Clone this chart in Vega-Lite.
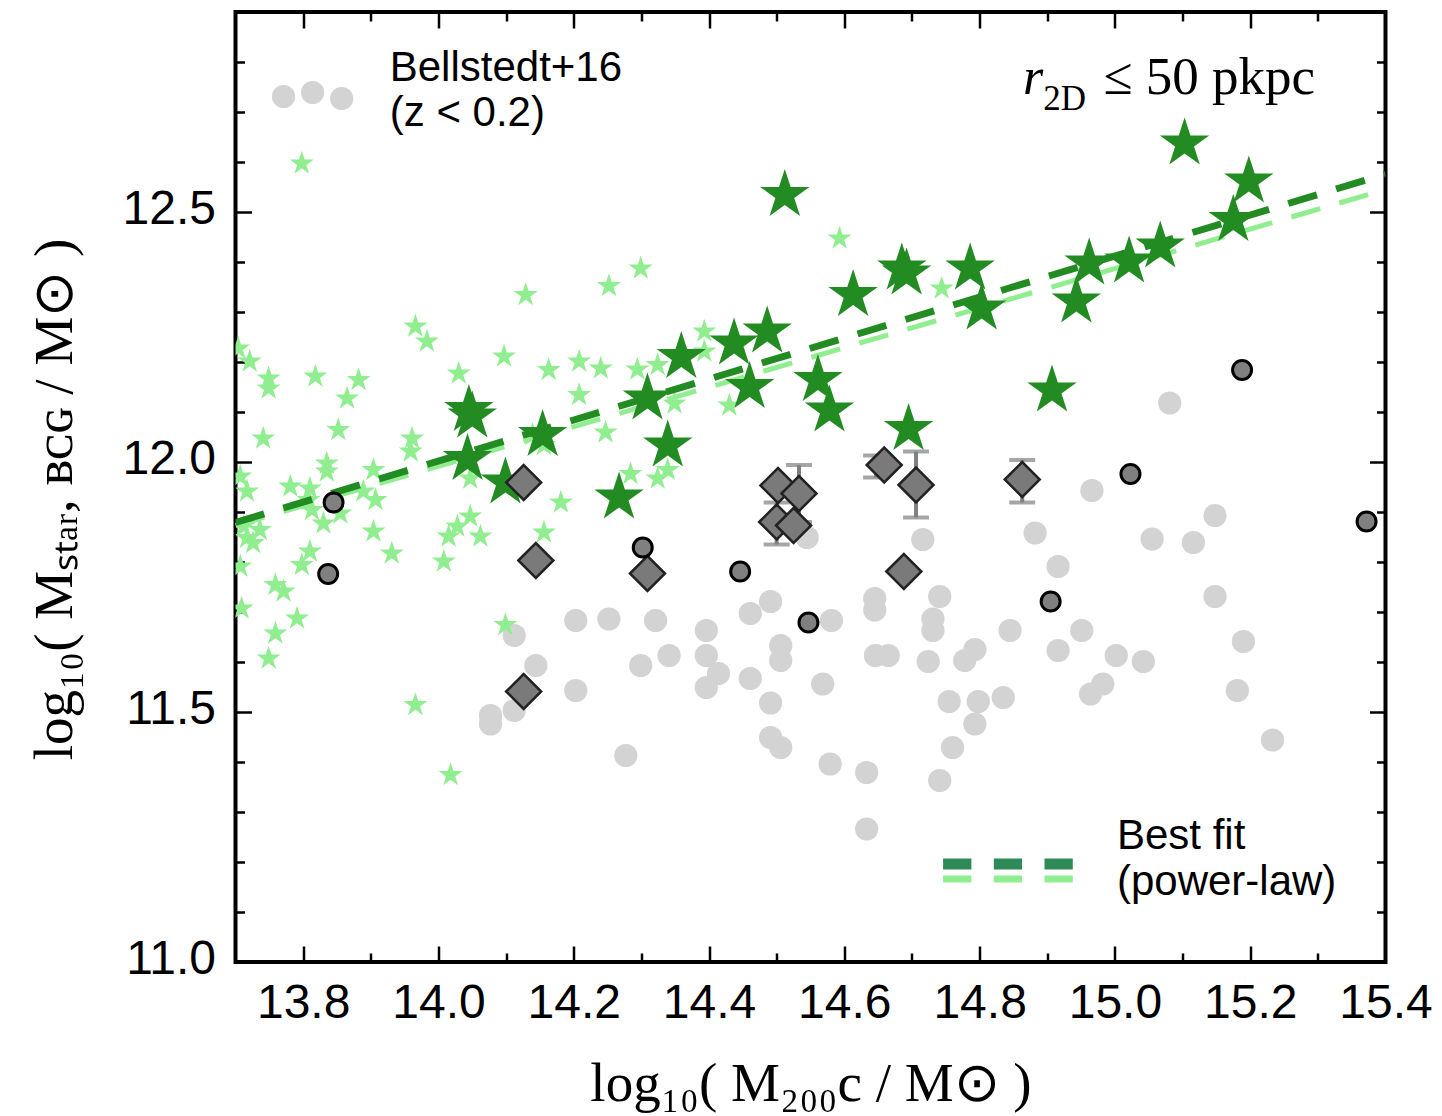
{
  "$schema": "https://vega.github.io/schema/vega-lite/v6.json",
  "width": 1150,
  "height": 950,
  "autosize": {"type": "none"},
  "padding": {"left": 235.5, "top": 12, "right": 56.5, "bottom": 154},
  "background": "white",
  "config": {
    "view": {"stroke": "black", "strokeWidth": 4},
    "axis": {"grid": false, "domain": false, "tickColor": "black", "tickWidth": 2.5, "labelColor": "black", "labelFont": "Liberation Sans", "labelFontSize": 48, "titleColor": "black", "titleFontWeight": "normal", "labelFlush": false, "labelOverlap": false}
  },
  "datasets": {
    "bellstedt": [
      {"m200": 14.112, "mstar": 11.653}, {"m200": 14.144, "mstar": 11.593}, {"m200": 14.112, "mstar": 11.503}, {"m200": 14.077, "mstar": 11.493}, {"m200": 14.077, "mstar": 11.476},
      {"m200": 14.203, "mstar": 11.683}, {"m200": 14.252, "mstar": 11.686}, {"m200": 14.321, "mstar": 11.683}, {"m200": 14.203, "mstar": 11.543}, {"m200": 14.299, "mstar": 11.593},
      {"m200": 14.341, "mstar": 11.613}, {"m200": 14.277, "mstar": 11.413}, {"m200": 14.396, "mstar": 11.663}, {"m200": 14.396, "mstar": 11.613}, {"m200": 14.396, "mstar": 11.549},
      {"m200": 15.081, "mstar": 12.118}, {"m200": 14.966, "mstar": 11.943}, {"m200": 15.148, "mstar": 11.893}, {"m200": 15.055, "mstar": 11.846}, {"m200": 15.116, "mstar": 11.839},
      {"m200": 14.882, "mstar": 11.858}, {"m200": 14.916, "mstar": 11.791}, {"m200": 15.148, "mstar": 11.731}, {"m200": 14.545, "mstar": 11.849}, {"m200": 14.716, "mstar": 11.845},
      {"m200": 14.491, "mstar": 11.721}, {"m200": 14.461, "mstar": 11.697}, {"m200": 14.581, "mstar": 11.683}, {"m200": 14.645, "mstar": 11.727}, {"m200": 14.645, "mstar": 11.704},
      {"m200": 14.741, "mstar": 11.731}, {"m200": 14.731, "mstar": 11.686}, {"m200": 14.731, "mstar": 11.663}, {"m200": 14.414, "mstar": 11.577}, {"m200": 14.506, "mstar": 11.633},
      {"m200": 14.506, "mstar": 11.603}, {"m200": 14.461, "mstar": 11.567}, {"m200": 14.568, "mstar": 11.556}, {"m200": 14.491, "mstar": 11.518}, {"m200": 14.491, "mstar": 11.449},
      {"m200": 14.506, "mstar": 11.429}, {"m200": 14.579, "mstar": 11.396}, {"m200": 14.633, "mstar": 11.379}, {"m200": 14.741, "mstar": 11.363}, {"m200": 14.646, "mstar": 11.613},
      {"m200": 14.665, "mstar": 11.613}, {"m200": 14.724, "mstar": 11.601}, {"m200": 14.778, "mstar": 11.603}, {"m200": 14.793, "mstar": 11.625}, {"m200": 14.845, "mstar": 11.663},
      {"m200": 14.951, "mstar": 11.663}, {"m200": 14.916, "mstar": 11.623}, {"m200": 15.002, "mstar": 11.613}, {"m200": 15.042, "mstar": 11.601}, {"m200": 14.982, "mstar": 11.556},
      {"m200": 14.964, "mstar": 11.536}, {"m200": 15.190, "mstar": 11.641}, {"m200": 15.181, "mstar": 11.543}, {"m200": 15.233, "mstar": 11.444}, {"m200": 14.755, "mstar": 11.521},
      {"m200": 14.798, "mstar": 11.521}, {"m200": 14.793, "mstar": 11.476}, {"m200": 14.835, "mstar": 11.529}, {"m200": 14.760, "mstar": 11.429}, {"m200": 14.633, "mstar": 11.266}
    ],
    "legend_bellstedt": [
      {"m200": 13.771, "mstar": 12.731}, {"m200": 13.814, "mstar": 12.739}, {"m200": 13.857, "mstar": 12.727}
    ],
    "light_stars": [
      {"m200": 13.798, "mstar": 12.597}, {"m200": 14.299, "mstar": 12.387}, {"m200": 14.252, "mstar": 12.352}, {"m200": 14.129, "mstar": 12.334}, {"m200": 13.966, "mstar": 12.271},
      {"m200": 13.983, "mstar": 12.241}, {"m200": 14.393, "mstar": 12.261}, {"m200": 14.393, "mstar": 12.221}, {"m200": 14.097, "mstar": 12.211}, {"m200": 14.208, "mstar": 12.201},
      {"m200": 14.240, "mstar": 12.187}, {"m200": 14.163, "mstar": 12.184}, {"m200": 14.294, "mstar": 12.185}, {"m200": 14.324, "mstar": 12.194}, {"m200": 14.030, "mstar": 12.177},
      {"m200": 13.818, "mstar": 12.171}, {"m200": 13.882, "mstar": 12.164}, {"m200": 13.749, "mstar": 12.167}, {"m200": 13.749, "mstar": 12.147}, {"m200": 13.721, "mstar": 12.201},
      {"m200": 13.704, "mstar": 12.227}, {"m200": 13.865, "mstar": 12.127}, {"m200": 13.741, "mstar": 12.047}, {"m200": 13.852, "mstar": 12.064}, {"m200": 13.961, "mstar": 12.047},
      {"m200": 13.959, "mstar": 12.021}, {"m200": 13.835, "mstar": 11.997}, {"m200": 13.835, "mstar": 11.981}, {"m200": 13.904, "mstar": 11.984}, {"m200": 13.707, "mstar": 11.971},
      {"m200": 13.717, "mstar": 11.941}, {"m200": 13.781, "mstar": 11.951}, {"m200": 13.810, "mstar": 11.947}, {"m200": 13.808, "mstar": 11.924}, {"m200": 13.813, "mstar": 11.904},
      {"m200": 13.889, "mstar": 11.941}, {"m200": 13.907, "mstar": 11.924}, {"m200": 13.830, "mstar": 11.877}, {"m200": 13.855, "mstar": 11.897}, {"m200": 13.904, "mstar": 11.861},
      {"m200": 13.931, "mstar": 11.817}, {"m200": 14.047, "mstar": 11.967}, {"m200": 14.047, "mstar": 11.891}, {"m200": 14.028, "mstar": 11.871}, {"m200": 14.015, "mstar": 11.851},
      {"m200": 14.062, "mstar": 11.851}, {"m200": 14.008, "mstar": 11.801}, {"m200": 13.712, "mstar": 11.871}, {"m200": 13.736, "mstar": 11.864}, {"m200": 13.717, "mstar": 11.848},
      {"m200": 13.726, "mstar": 11.838}, {"m200": 13.707, "mstar": 11.791}, {"m200": 13.810, "mstar": 11.821}, {"m200": 13.798, "mstar": 11.794}, {"m200": 13.759, "mstar": 11.754},
      {"m200": 13.771, "mstar": 11.741}, {"m200": 13.709, "mstar": 11.707}, {"m200": 13.791, "mstar": 11.687}, {"m200": 13.759, "mstar": 11.657}, {"m200": 14.099, "mstar": 11.674},
      {"m200": 13.749, "mstar": 11.607}, {"m200": 13.966, "mstar": 11.514}, {"m200": 14.018, "mstar": 11.374}, {"m200": 14.208, "mstar": 12.134}, {"m200": 14.247, "mstar": 12.059},
      {"m200": 14.181, "mstar": 11.919}, {"m200": 14.156, "mstar": 11.859}, {"m200": 14.284, "mstar": 11.976}, {"m200": 14.324, "mstar": 11.967}, {"m200": 14.339, "mstar": 11.984},
      {"m200": 14.349, "mstar": 12.117}, {"m200": 14.139, "mstar": 12.054}, {"m200": 14.156, "mstar": 12.034}, {"m200": 14.593, "mstar": 12.447}, {"m200": 14.744, "mstar": 12.347},
      {"m200": 14.430, "mstar": 12.113}
    ],
    "dark_stars": [
      {"m200": 14.045, "mstar": 12.104}, {"m200": 14.050, "mstar": 12.091}, {"m200": 14.043, "mstar": 12.006}, {"m200": 14.099, "mstar": 11.959}, {"m200": 14.154, "mstar": 12.054},
      {"m200": 14.267, "mstar": 11.929}, {"m200": 14.309, "mstar": 12.127}, {"m200": 14.339, "mstar": 12.033}, {"m200": 14.359, "mstar": 12.210}, {"m200": 14.437, "mstar": 12.237},
      {"m200": 14.486, "mstar": 12.261}, {"m200": 14.460, "mstar": 12.150}, {"m200": 14.512, "mstar": 12.534}, {"m200": 14.561, "mstar": 12.164}, {"m200": 14.578, "mstar": 12.103},
      {"m200": 14.613, "mstar": 12.334}, {"m200": 14.685, "mstar": 12.387}, {"m200": 14.692, "mstar": 12.377}, {"m200": 14.695, "mstar": 12.066}, {"m200": 14.786, "mstar": 12.387},
      {"m200": 14.803, "mstar": 12.307}, {"m200": 14.907, "mstar": 12.143}, {"m200": 14.943, "mstar": 12.321}, {"m200": 14.962, "mstar": 12.397}, {"m200": 15.021, "mstar": 12.401},
      {"m200": 15.067, "mstar": 12.431}, {"m200": 15.103, "mstar": 12.637}, {"m200": 15.175, "mstar": 12.484}, {"m200": 15.198, "mstar": 12.561}
    ],
    "dark_circles": [
      {"m200": 13.845, "mstar": 11.919}, {"m200": 13.837, "mstar": 11.776}, {"m200": 14.302, "mstar": 11.829}, {"m200": 14.446, "mstar": 11.781}, {"m200": 14.547, "mstar": 11.679},
      {"m200": 15.023, "mstar": 11.976}, {"m200": 14.905, "mstar": 11.721}, {"m200": 15.372, "mstar": 11.881}, {"m200": 15.188, "mstar": 12.184}
    ],
    "diamonds": [
      {"m200": 14.126, "mstar": 11.959}, {"m200": 14.144, "mstar": 11.803}, {"m200": 14.309, "mstar": 11.777}, {"m200": 14.126, "mstar": 11.541}, {"m200": 14.502, "mstar": 11.953},
      {"m200": 14.533, "mstar": 11.937}, {"m200": 14.500, "mstar": 11.880}, {"m200": 14.525, "mstar": 11.873}, {"m200": 14.659, "mstar": 11.994}, {"m200": 14.706, "mstar": 11.954},
      {"m200": 14.863, "mstar": 11.965}, {"m200": 14.688, "mstar": 11.781}
    ],
    "errors": [
      {"m200": 14.500, "lo": 11.835, "hi": 11.919}, {"m200": 14.533, "lo": 11.880, "hi": 11.994}, {"m200": 14.706, "lo": 11.889, "hi": 12.021},
      {"m200": 14.863, "lo": 11.919, "hi": 12.004}, {"m200": 14.647, "lo": 11.969, "hi": 12.013}
    ],
    "fit_dark": [{"m200": 13.70, "mstar": 11.879}, {"m200": 15.40, "mstar": 12.576}],
    "fit_light": [{"m200": 13.70, "mstar": 11.873}, {"m200": 15.40, "mstar": 12.545}],
    "legend_fit_dark": [{"m200": 14.746, "mstar": 11.196}, {"m200": 14.938, "mstar": 11.196}],
    "legend_fit_light": [{"m200": 14.746, "mstar": 11.166}, {"m200": 14.938, "mstar": 11.166}],
    "labels_sans": [
      {"m200": 13.928, "mstar": 12.763, "label": "Bellstedt+16"},
      {"m200": 13.928, "mstar": 12.672, "label": "(z < 0.2)"},
      {"m200": 15.003, "mstar": 11.227, "label": "Best fit"},
      {"m200": 15.003, "mstar": 11.134, "label": "(power-law)"}
    ]
  },
  "layer": [
    {
      "data": {"name": "bellstedt"},
      "mark": {"type": "point", "shape": "circle", "filled": true, "color": "#d3d3d3", "opacity": 1, "size": 540},
      "encoding": {
        "x": {"field": "m200", "type": "quantitative", "scale": {"domain": [13.7, 15.4], "nice": false, "zero": false},
              "axis": {"orient": "bottom", "values": [13.8, 14.0, 14.2, 14.4, 14.6, 14.8, 15.0, 15.2, 15.4], "format": ".1f", "ticks": false, "labelPadding": 17,
                       "title": "log₁₀( M₂₀₀c / M⊙ )", "titleFont": "Liberation Serif", "titleFontSize": 55, "titleX": 575, "titleY": 138, "titleBaseline": "alphabetic", "titleAlign": "center"}},
        "y": {"field": "mstar", "type": "quantitative", "scale": {"domain": [11.0, 12.9], "nice": false, "zero": false},
              "axis": {"orient": "left", "values": [11.0, 11.5, 12.0, 12.5], "format": ".1f", "ticks": false, "labelPadding": 20, "labelOffset": -3,
                       "title": "log₁₀( Mₛₜₐᵣ, ʙᴄɢ / M⊙ )", "titleFont": "Liberation Serif", "titleFontSize": 55, "titleX": -164, "titleY": 487, "titleAngle": 270, "titleBaseline": "alphabetic", "titleAlign": "center"}}
      }
    },
    {
      "data": {"name": "legend_bellstedt"},
      "mark": {"type": "point", "shape": "circle", "filled": true, "color": "#d3d3d3", "opacity": 1, "size": 540},
      "encoding": {
        "x": {"field": "m200", "type": "quantitative", "scale": {"domain": [13.7, 15.4], "nice": false, "zero": false}, "axis": null},
        "y": {"field": "mstar", "type": "quantitative", "scale": {"domain": [11.0, 12.9], "nice": false, "zero": false}, "axis": null}
      }
    },
    {
      "data": {"name": "light_stars"},
      "mark": {"type": "point", "shape": "M0,-1L0.2245,-0.309L0.951,-0.309L0.3633,0.118L0.588,0.809L0,0.382L-0.588,0.809L-0.3633,0.118L-0.951,-0.309L-0.2245,-0.309Z", "filled": true, "color": "#90ee90", "opacity": 1, "size": 640, "clip": true},
      "encoding": {
        "x": {"field": "m200", "type": "quantitative", "scale": {"domain": [13.7, 15.4], "nice": false, "zero": false},
              "axis": {"orient": "bottom", "values": [13.8, 14.0, 14.2, 14.4, 14.6, 14.8, 15.0, 15.2], "labels": false, "tickSize": -16, "title": null}},
        "y": {"field": "mstar", "type": "quantitative", "scale": {"domain": [11.0, 12.9], "nice": false, "zero": false},
              "axis": {"orient": "left", "values": [11.5, 12.0, 12.5], "labels": false, "tickSize": -16, "title": null}}
      }
    },
    {
      "data": {"name": "fit_light"},
      "mark": {"type": "line", "color": "#90ee90", "strokeWidth": 5, "strokeDash": [30, 20], "clip": true},
      "encoding": {
        "x": {"field": "m200", "type": "quantitative", "scale": {"domain": [13.7, 15.4], "nice": false, "zero": false},
              "axis": {"orient": "bottom", "values": [13.9, 14.1, 14.3, 14.5, 14.7, 14.9, 15.1, 15.3], "labels": false, "tickSize": -9, "title": null}},
        "y": {"field": "mstar", "type": "quantitative", "scale": {"domain": [11.0, 12.9], "nice": false, "zero": false},
              "axis": {"orient": "left", "values": [11.1, 11.2, 11.3, 11.4, 11.6, 11.7, 11.8, 11.9, 12.1, 12.2, 12.3, 12.4, 12.6, 12.7, 12.8], "labels": false, "tickSize": -9, "title": null}}
      }
    },
    {
      "data": {"name": "fit_dark"},
      "mark": {"type": "line", "color": "#228b22", "strokeWidth": 7, "strokeDash": [30, 20], "clip": true},
      "encoding": {
        "x": {"field": "m200", "type": "quantitative", "scale": {"domain": [13.7, 15.4], "nice": false, "zero": false},
              "axis": {"orient": "top", "values": [13.8, 14.0, 14.2, 14.4, 14.6, 14.8, 15.0, 15.2], "labels": false, "tickSize": -16, "title": null}},
        "y": {"field": "mstar", "type": "quantitative", "scale": {"domain": [11.0, 12.9], "nice": false, "zero": false},
              "axis": {"orient": "right", "values": [11.5, 12.0, 12.5], "labels": false, "tickSize": -16, "title": null}}
      }
    },
    {
      "data": {"name": "dark_stars"},
      "mark": {"type": "point", "shape": "M0,-1L0.2245,-0.309L0.951,-0.309L0.3633,0.118L0.588,0.809L0,0.382L-0.588,0.809L-0.3633,0.118L-0.951,-0.309L-0.2245,-0.309Z", "filled": true, "color": "#228b22", "opacity": 1, "size": 2700},
      "encoding": {
        "x": {"field": "m200", "type": "quantitative", "scale": {"domain": [13.7, 15.4], "nice": false, "zero": false},
              "axis": {"orient": "top", "values": [13.9, 14.1, 14.3, 14.5, 14.7, 14.9, 15.1, 15.3], "labels": false, "tickSize": -9, "title": null}},
        "y": {"field": "mstar", "type": "quantitative", "scale": {"domain": [11.0, 12.9], "nice": false, "zero": false},
              "axis": {"orient": "right", "values": [11.1, 11.2, 11.3, 11.4, 11.6, 11.7, 11.8, 11.9, 12.1, 12.2, 12.3, 12.4, 12.6, 12.7, 12.8], "labels": false, "tickSize": -9, "title": null}}
      }
    },
    {
      "data": {"name": "errors"},
      "mark": {"type": "errorbar", "ticks": true, "size": 26, "thickness": 4, "color": "#808080"},
      "encoding": {
        "x": {"field": "m200", "type": "quantitative", "scale": {"domain": [13.7, 15.4], "nice": false, "zero": false}, "axis": null},
        "y": {"field": "lo", "type": "quantitative", "scale": {"domain": [11.0, 12.9], "nice": false, "zero": false}, "axis": null},
        "y2": {"field": "hi"}
      }
    },
    {
      "data": {"name": "diamonds"},
      "mark": {"type": "point", "shape": "diamond", "filled": true, "fill": "#7a7a7a", "stroke": "#222222", "strokeWidth": 2.5, "opacity": 1, "size": 1225},
      "encoding": {
        "x": {"field": "m200", "type": "quantitative", "scale": {"domain": [13.7, 15.4], "nice": false, "zero": false}, "axis": null},
        "y": {"field": "mstar", "type": "quantitative", "scale": {"domain": [11.0, 12.9], "nice": false, "zero": false}, "axis": null}
      }
    },
    {
      "data": {"name": "dark_circles"},
      "mark": {"type": "point", "shape": "circle", "filled": true, "fill": "#808080", "stroke": "black", "strokeWidth": 3, "opacity": 1, "size": 361},
      "encoding": {
        "x": {"field": "m200", "type": "quantitative", "scale": {"domain": [13.7, 15.4], "nice": false, "zero": false}, "axis": null},
        "y": {"field": "mstar", "type": "quantitative", "scale": {"domain": [11.0, 12.9], "nice": false, "zero": false}, "axis": null}
      }
    },
    {
      "data": {"name": "legend_fit_dark"},
      "mark": {"type": "line", "color": "#2e8b57", "strokeWidth": 11, "strokeDash": [28.3, 22.4]},
      "encoding": {
        "x": {"field": "m200", "type": "quantitative", "scale": {"domain": [13.7, 15.4], "nice": false, "zero": false}, "axis": null},
        "y": {"field": "mstar", "type": "quantitative", "scale": {"domain": [11.0, 12.9], "nice": false, "zero": false}, "axis": null}
      }
    },
    {
      "data": {"name": "legend_fit_light"},
      "mark": {"type": "line", "color": "#90ee90", "strokeWidth": 7, "strokeDash": [28.3, 22.4]},
      "encoding": {
        "x": {"field": "m200", "type": "quantitative", "scale": {"domain": [13.7, 15.4], "nice": false, "zero": false}, "axis": null},
        "y": {"field": "mstar", "type": "quantitative", "scale": {"domain": [11.0, 12.9], "nice": false, "zero": false}, "axis": null}
      }
    },
    {
      "data": {"name": "labels_sans"},
      "mark": {"type": "text", "align": "left", "baseline": "alphabetic", "font": "Liberation Sans", "fontSize": 42, "color": "black"},
      "encoding": {
        "x": {"field": "m200", "type": "quantitative", "scale": {"domain": [13.7, 15.4], "nice": false, "zero": false}, "axis": null},
        "y": {"field": "mstar", "type": "quantitative", "scale": {"domain": [11.0, 12.9], "nice": false, "zero": false}, "axis": null},
        "text": {"field": "label"}
      }
    },
    {
      "data": {"values": [{"m200": 14.864, "mstar": 12.737, "label": "r"}]},
      "mark": {"type": "text", "align": "left", "baseline": "alphabetic", "font": "Liberation Serif", "fontStyle": "italic", "fontSize": 52, "color": "black"},
      "encoding": {
        "x": {"field": "m200", "type": "quantitative", "scale": {"domain": [13.7, 15.4], "nice": false, "zero": false}, "axis": null},
        "y": {"field": "mstar", "type": "quantitative", "scale": {"domain": [11.0, 12.9], "nice": false, "zero": false}, "axis": null},
        "text": {"field": "label"}
      }
    },
    {
      "data": {"values": [{"m200": 14.894, "mstar": 12.704, "label": "2D"}]},
      "mark": {"type": "text", "align": "left", "baseline": "alphabetic", "font": "Liberation Serif", "fontSize": 35, "color": "black"},
      "encoding": {
        "x": {"field": "m200", "type": "quantitative", "scale": {"domain": [13.7, 15.4], "nice": false, "zero": false}, "axis": null},
        "y": {"field": "mstar", "type": "quantitative", "scale": {"domain": [11.0, 12.9], "nice": false, "zero": false}, "axis": null},
        "text": {"field": "label"}
      }
    },
    {
      "data": {"values": [{"m200": 14.983, "mstar": 12.737, "label": "≤ 50 pkpc"}]},
      "mark": {"type": "text", "align": "left", "baseline": "alphabetic", "font": "Liberation Serif", "fontSize": 53, "color": "black"},
      "encoding": {
        "x": {"field": "m200", "type": "quantitative", "scale": {"domain": [13.7, 15.4], "nice": false, "zero": false}, "axis": null},
        "y": {"field": "mstar", "type": "quantitative", "scale": {"domain": [11.0, 12.9], "nice": false, "zero": false}, "axis": null},
        "text": {"field": "label"}
      }
    }
  ],
  "resolve": {"axis": {"x": "independent", "y": "independent"}}
}
